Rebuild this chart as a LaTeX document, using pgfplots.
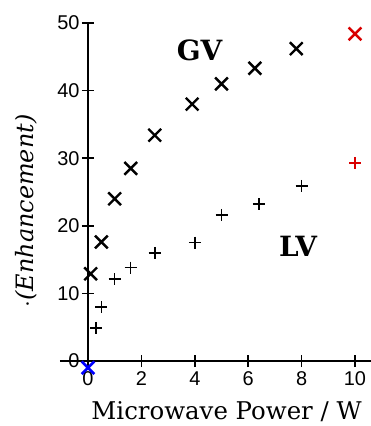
\documentclass[border=0pt]{standalone}
\usepackage{fontspec}
\setmainfont{DejaVu Serif}
\newfontfamily\ticksf{Liberation Sans}
\usepackage{pgfplots}
\pgfplotsset{compat=1.18}
\begin{document}
\begin{tikzpicture}
\useasboundingbox (-88bp,-65bp) rectangle (283bp,361bp);
\clip (-88bp,-65bp) rectangle (283bp,361bp);
\begin{axis}[
  anchor=origin, at={(0,0)},
  x=26.7bp, y=6.76bp,
  xmin=-1.05, xmax=10.6, ymin=-2, ymax=50.5,
  axis lines=middle,
  axis line style={draw=none},
  hide obscured x ticks=false, hide obscured y ticks=false,
  xtick={0,2,4,6,8,10}, ytick={0,10,20,30,40,50},
  tick align=center, major tick length=12bp,
  tick style={line width=1.6bp, black},
  /pgf/number format/assume math mode=true,
  ticklabel style={font=\ticksf\fontsize{20}{20}\selectfont},
  xticklabel style={anchor=north, yshift=-1bp},
  yticklabel style={anchor=east, xshift=1bp},
  clip=false,
]
\draw[line width=1.8bp] (axis cs:-1.05,0) -- (axis cs:10.6,0);
\draw[line width=1.8bp] (axis cs:0,0) -- (axis cs:0,50);
% GV
\addplot[only marks, mark=x, mark size=9bp, line width=2.4bp, black] coordinates {
 (0.1,12.9) (0.5,17.6) (1.0,24.0) (1.6,28.5) (2.5,33.4) (3.9,38.0) (5.0,41.0) (6.25,43.3) (7.8,46.2)};
\addplot[only marks, mark=x, mark size=9bp, line width=2.4bp, red!85!black] coordinates {(10,48.4)};
% LV
\addplot[only marks, mark=+, mark size=6bp, line width=1.5bp, black] coordinates {
 (0.3,4.9) (0.5,8.0) (1.0,12.1) (1.6,13.8) (2.5,16.0) (4.0,17.5) (5.0,21.6) (6.4,23.2) (8.0,25.9)};
\addplot[only marks, mark=+, mark size=6bp, line width=1.5bp, red!85!black] coordinates {(10,29.3)};
% origin
\addplot[only marks, mark=x, mark size=9bp, line width=2.6bp, blue] coordinates {(0,-1)};
\node[font=\bfseries\fontsize{28}{28}\selectfont] at (axis cs:4.18,45.9) {GV};
\node[font=\bfseries\fontsize{28}{28}\selectfont] at (axis cs:7.87,16.9) {LV};
\node[anchor=base, font=\fontsize{24.5}{24.5}\selectfont] at (axis cs:5.19,-8.7) {Microwave Power / W};
\node[rotate=90, font=\itshape\fontsize{24}{24}\selectfont] at (axis cs:-2.3,22.2) {$\cdot$(Enhancement)};
\end{axis}
\end{tikzpicture}
\end{document}
